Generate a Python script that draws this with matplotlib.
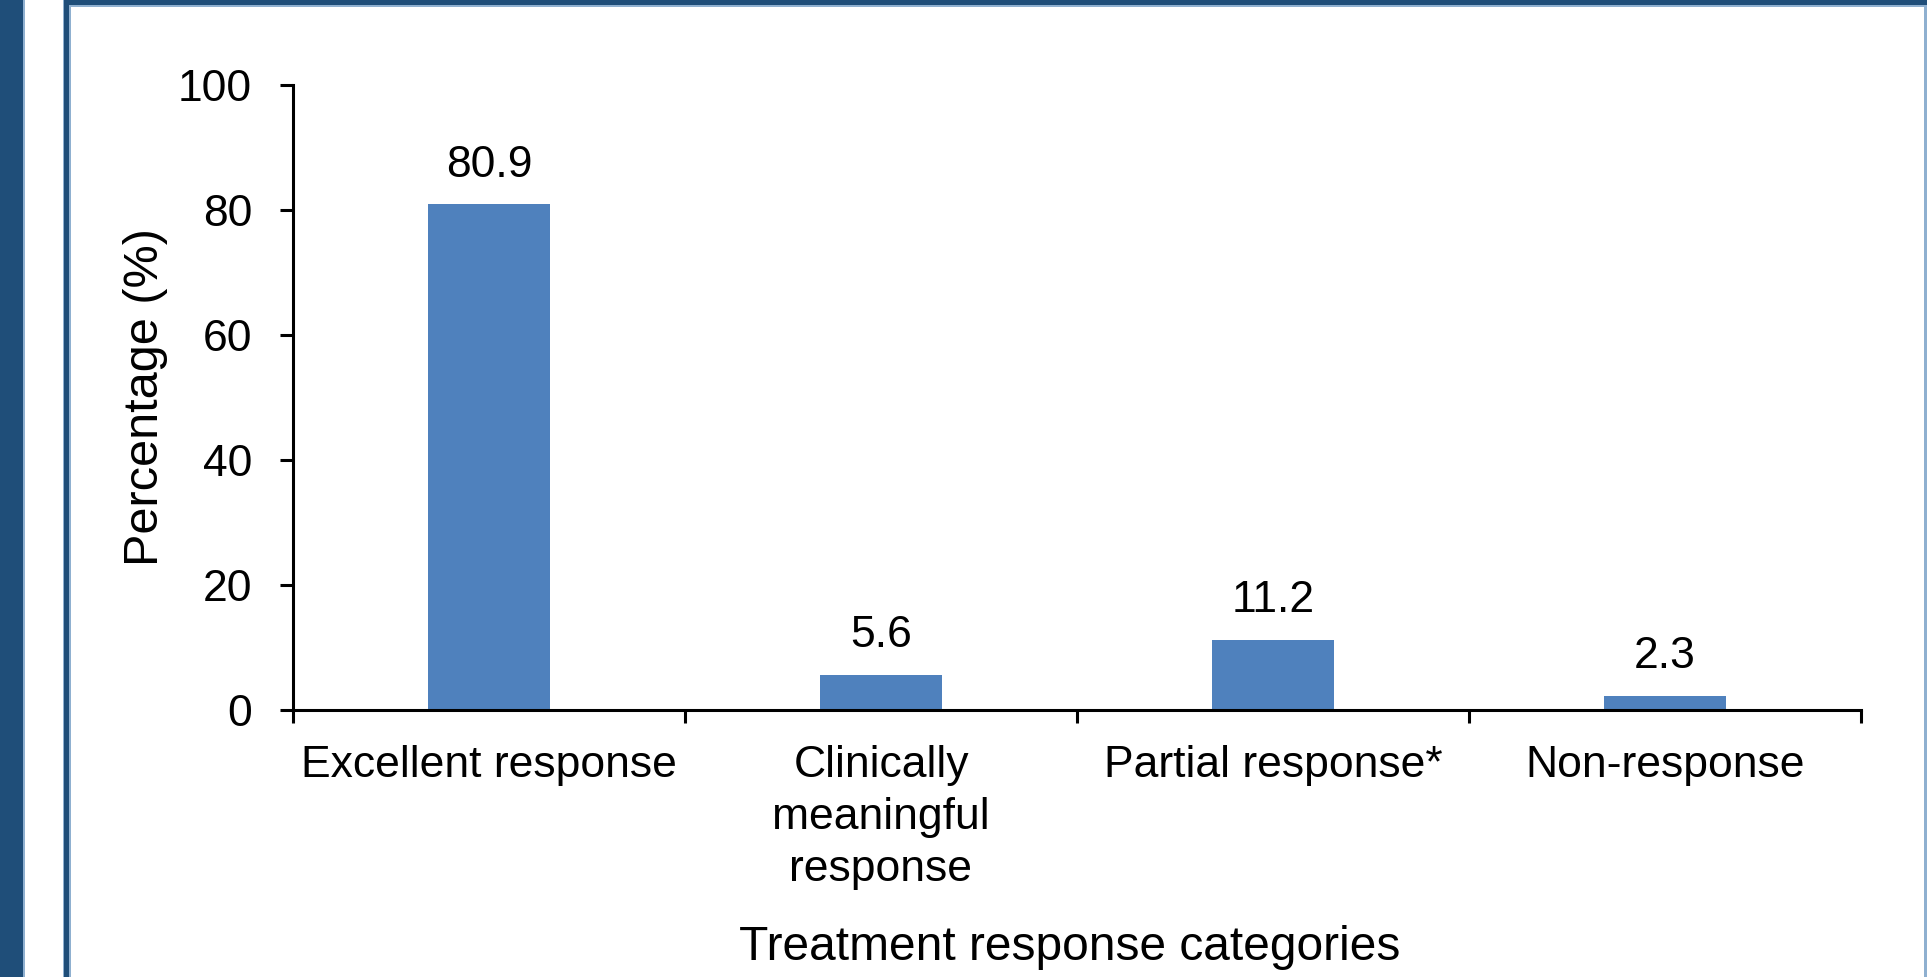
import matplotlib
matplotlib.use("Agg")
import matplotlib.pyplot as plt
from matplotlib.patches import Rectangle
import numpy as np

plt.rcParams['font.family'] = ['Liberation Sans', 'DejaVu Sans']

# response categories and share of patients (%)
categories = ["Excellent response", "Clinically\nmeaningful\nresponse",
              "Partial response*", "Non-response"]
percentages = [80.9, 5.6, 11.2, 2.3]
value_labels = ["80.9", "5.6", "11.2", "2.3"]
yticks = [0, 20, 40, 60, 80, 100]

bar_color = "#4F81BD"
frame_dark = "#1F4E79"
frame_light = "#8FB0D0"

fig = plt.figure(figsize=(19.27, 9.77), dpi=100)
fig.patch.set_facecolor("white")

W, H = 1927.0, 977.0

def px_rect(x0, y0, x1, y1, color):
    # rectangle given in pixel coords (origin top-left)
    fig.add_artist(Rectangle((x0 / W, 1 - y1 / H), (x1 - x0) / W, (y1 - y0) / H,
                             transform=fig.transFigure, facecolor=color,
                             edgecolor="none", zorder=0))

# slide frame: dark band on the left, thin strip and top bar of the panel
px_rect(0, 0, 23, H, frame_dark)
px_rect(23, 0, 24.5, H, frame_light)
px_rect(62.5, 0, 64, H, frame_light)
px_rect(64, 0, 69, H, frame_dark)
px_rect(69, 5, 70.5, H, frame_light)
px_rect(64, 0, W, 5, frame_dark)
px_rect(69, 5, W, 6.5, frame_light)
px_rect(1924, 5, W, H, frame_light)

ax = fig.add_axes([293 / W, 1 - 710 / H, (1861 - 293) / W, (710 - 85) / H])

x = np.arange(len(categories))
bars = ax.bar(x, percentages, width=0.31, color=bar_color, zorder=2)

for xi, val, lab in zip(x, percentages, value_labels):
    ax.annotate(lab, (xi, val), xytext=(0, 20), textcoords="offset points",
                ha="center", va="baseline", fontsize=32)

ax.set_xlim(-0.5, len(categories) - 0.5)
ax.set_ylim(0, 100)
ax.set_yticks(yticks)
ax.tick_params(axis="y", which="major", length=9.5, width=2.2,
               labelsize=32, pad=20, direction="out")

# boundary ticks between categories, labels sit on minor ticks
ax.set_xticks(np.arange(-0.5, len(categories), 1.0))
ax.set_xticklabels([])
ax.set_xticks(x, minor=True)
ax.set_xticklabels(categories, minor=True, fontsize=32, linespacing=1.35)
ax.tick_params(axis="x", which="major", length=9.5, width=2.2, direction="out")
ax.tick_params(axis="x", which="minor", length=0, pad=25)

for side in ["top", "right"]:
    ax.spines[side].set_visible(False)
for side in ["left", "bottom"]:
    ax.spines[side].set_linewidth(2.2)

ax.set_ylabel("Percentage (%)", fontsize=35, va="center")
ax.yaxis.set_label_coords(-0.094, 0.5)
ax.set_xlabel("Treatment response categories", fontsize=34.5, va="baseline")
ax.xaxis.set_label_coords(0.4955, -0.40)

fig.savefig("out.png", dpi=100)
